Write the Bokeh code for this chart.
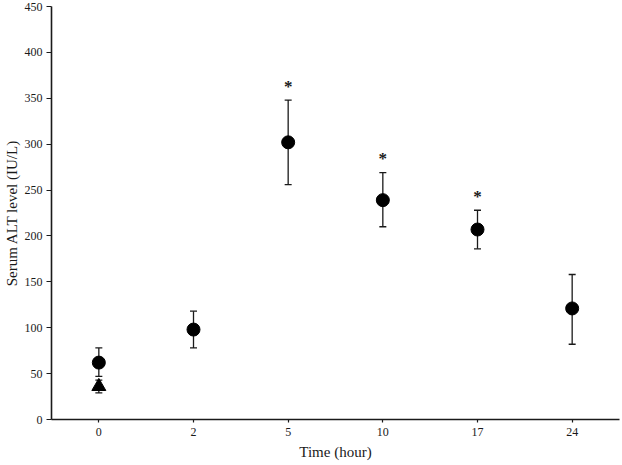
from bokeh.plotting import figure
from bokeh.models import FactorRange, Range1d, FixedTicker, Whisker, TeeHead, ColumnDataSource
from bokeh.embed import file_html
from bokeh.resources import INLINE
from bokeh.core.properties import value

# Data
time_labels = ["0", "2", "5", "10", "17", "24"]
alt_mean = [62, 98, 302, 239, 207, 121]
alt_lower = [47, 78, 256, 210, 186, 82]
alt_upper = [78, 118, 348, 269, 228, 158]

ctrl_time = ["0"]
ctrl_mean = [36]
ctrl_lower = [29]
ctrl_upper = [43]

sig_time = ["5", "10", "17"]
sig_upper = [348, 269, 228]
sig_mark = ["*", "*", "*"]

y_ticks = [0, 50, 100, 150, 200, 250, 300, 350, 400, 450]

FONT = "Liberation Serif"
INK = "#1a1a1a"

p = figure(
    width=622, height=465,
    x_range=FactorRange(*time_labels, range_padding=0, factor_padding=0),
    y_range=Range1d(0, 450),
    output_backend="svg", toolbar_location=None,
    min_border_left=49, min_border_right=3, min_border_top=6, min_border_bottom=46,
)
p.outline_line_color = None
p.xgrid.grid_line_color = None
p.ygrid.grid_line_color = None
p.background_fill_color = "white"
p.border_fill_color = "white"

src = ColumnDataSource(dict(t=time_labels, m=alt_mean, lo=alt_lower, up=alt_upper))
csrc = ColumnDataSource(dict(t=ctrl_time, m=ctrl_mean, lo=ctrl_lower, up=ctrl_upper))
ssrc = ColumnDataSource(dict(t=sig_time, up=sig_upper, s=sig_mark))

for s in (src, csrc):
    w = Whisker(source=s, base="t", upper="up", lower="lo",
                line_color=INK, line_width=1.3,
                upper_head=TeeHead(size=7, line_color=INK, line_width=1.3),
                lower_head=TeeHead(size=7, line_color=INK, line_width=1.3))
    p.add_layout(w)

p.scatter("t", "m", source=src, marker="circle", size=13, fill_color="black", line_color="black")
p.scatter("t", "m", source=csrc, marker="triangle", size=14, fill_color="black", line_color="black")

p.text("t", "up", text="s", source=ssrc, y_offset=-14, text_align="center",
       text_baseline="middle", text_font=value(FONT), text_font_size="17px",
       text_font_style="bold", text_color=INK)

# Axes
p.yaxis.ticker = FixedTicker(ticks=y_ticks)
p.yaxis.minor_tick_line_color = None
p.xaxis.minor_tick_line_color = None
for ax in (p.xaxis, p.yaxis):
    ax.axis_line_color = INK
    ax.axis_line_width = 1.6
    ax.major_tick_line_color = INK
    ax.major_tick_line_width = 1.2
    ax.major_tick_in = 0
    ax.major_label_text_font = FONT
    ax.major_label_text_font_size = "12px"
    ax.major_label_text_color = INK
    ax.axis_label_text_font = FONT
    ax.axis_label_text_font_size = "15px"
    ax.axis_label_text_font_style = "normal"
    ax.axis_label_text_color = INK

p.yaxis.major_tick_out = 5
p.yaxis.major_label_standoff = 4
p.yaxis.axis_label = "Serum ALT level (IU/L)"
p.yaxis.axis_label_standoff = 2

p.xaxis.major_tick_out = 3
p.xaxis.major_label_standoff = 5
p.xaxis.axis_label = "Time (hour)"
p.xaxis.axis_label_standoff = 5

open("out.html", "w").write(file_html(p, INLINE))
